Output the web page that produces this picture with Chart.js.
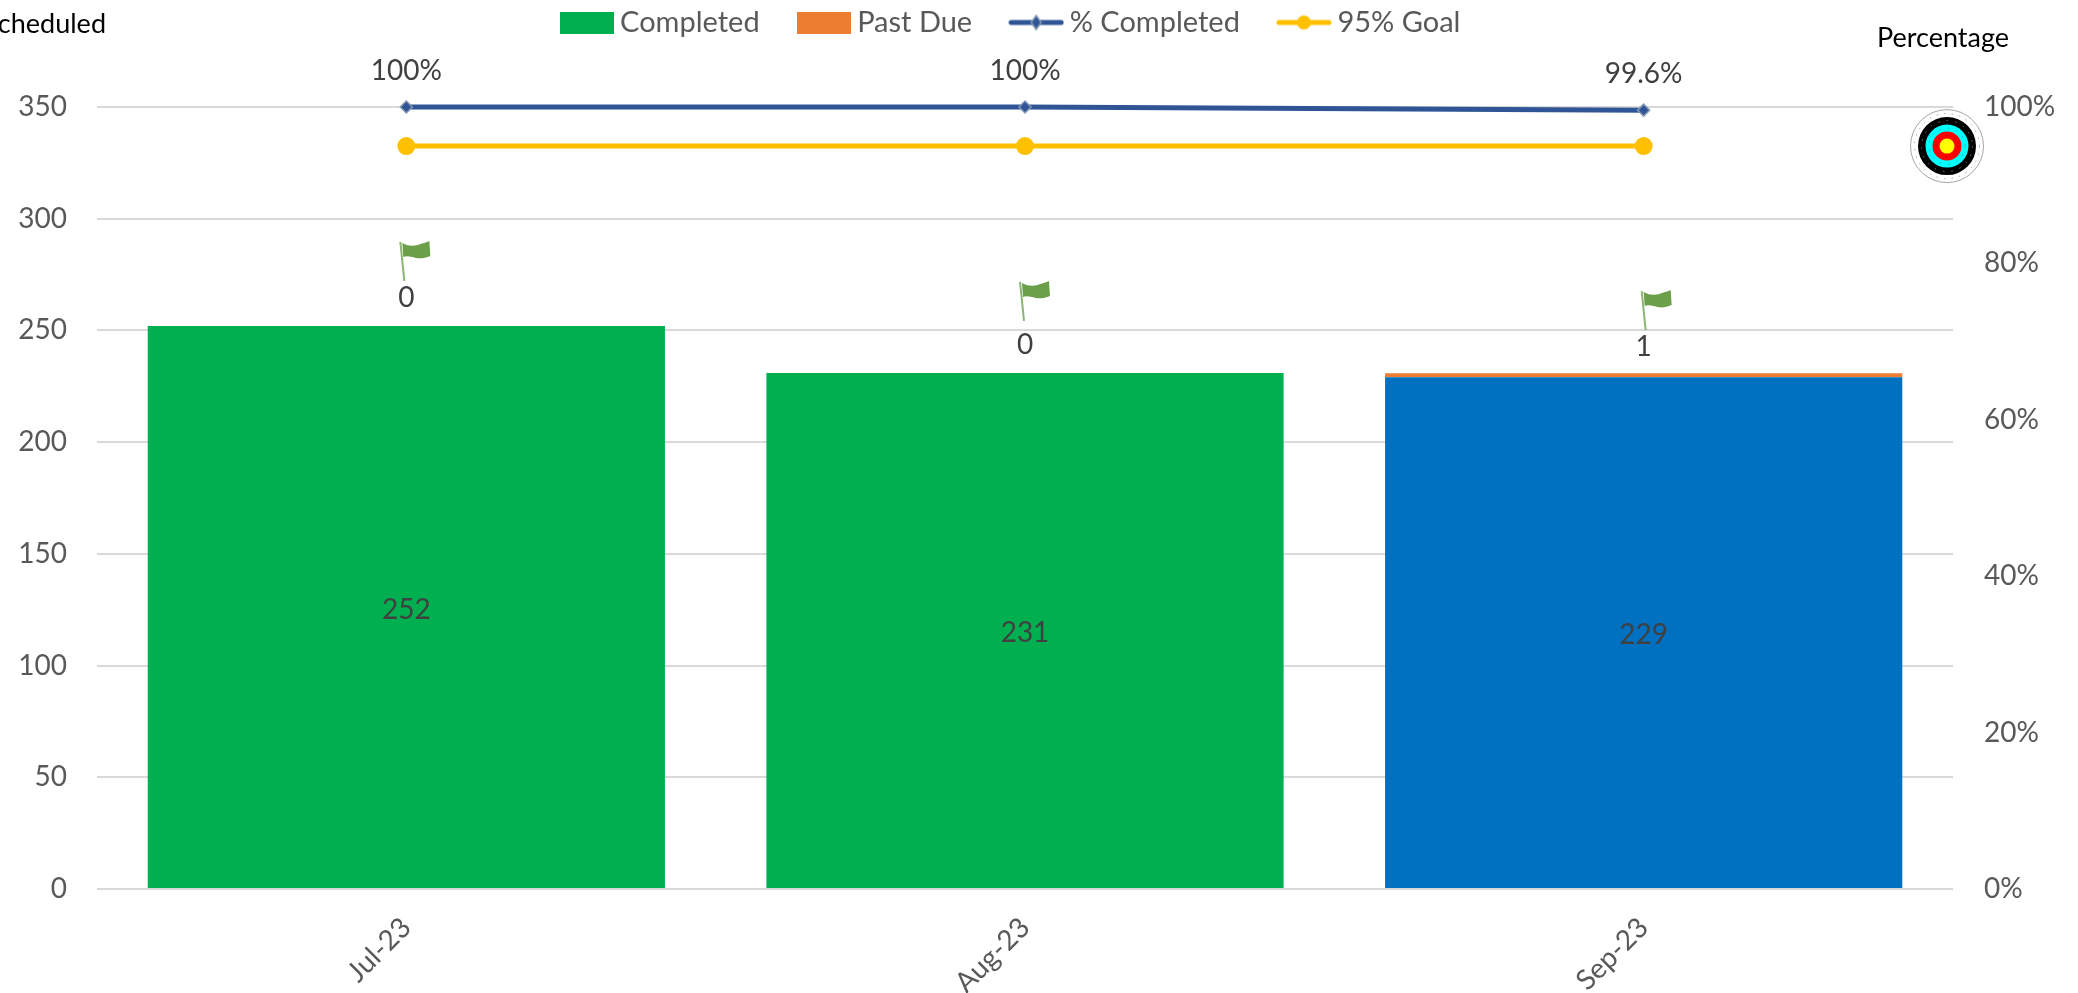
<!DOCTYPE html>
<html><head><meta charset="utf-8">
<style>html,body{margin:0;padding:0;background:#fff;overflow:hidden}canvas{display:block}</style>
<script src="https://cdn.jsdelivr.net/npm/chart.js@4/dist/chart.umd.min.js"></script>
</head><body><canvas id="c" width="2078" height="993"></canvas>
<script>
const categories = ['Jul-23','Aug-23','Sep-23'];
const completed = [252,231,229];
const pastDue = [0,0,1];
const pctCompleted = [1,1,0.996];
const goal = [0.95,0.95,0.95];
const pctLabels = ['100%','100%','99.6%'];
const completedColors = ['#00B050','#00B050','#0070C0'];
const FONT = 'Lato, Carlito, "Open Sans", sans-serif';

function swatch(color){
  const c=document.createElement('canvas');c.width=54;c.height=22;
  const x=c.getContext('2d');x.fillStyle=color;x.fillRect(0,0,54,22);return c;
}
function lineKey(color,marker){
  const c=document.createElement('canvas');c.width=56;c.height=24;
  const x=c.getContext('2d');
  x.strokeStyle=color;x.lineWidth=5;x.lineCap='round';
  x.beginPath();x.moveTo(3,12);x.lineTo(53,12);x.stroke();
  x.fillStyle=color;
  if(marker==='diamond'){
    x.strokeStyle='#8497B0';x.lineWidth=1.5;
    x.beginPath();x.moveTo(28,5);x.lineTo(33,12);x.lineTo(28,19);x.lineTo(23,12);x.closePath();x.fill();x.stroke();
  } else {
    x.beginPath();x.arc(28,12,7,0,Math.PI*2);x.fill();
  }
  return c;
}
const legendIcons=[swatch('#00B050'),swatch('#ED7D31'),lineKey('#2F5597','diamond'),lineKey('#FFC000','circle')];

const legendFit={
  id:'legendFit',
  beforeLayout(chart){
    const L=chart.legend;
    if(L && !L._patched){
      L._patched=true;
      const f=L.fit, d=L.draw;
      L.fit=function(){f.call(this);this.height=107;this.lineWidths[0]+=50;};
      L.draw=function(){
        const ctx=this.ctx;ctx.save();ctx.translate(0,-37);d.call(this);ctx.restore();
      };
    }
  }
};

function drawFlag(ctx,x,y){
  ctx.save();
  ctx.strokeStyle='#8DB573';ctx.lineWidth=2;
  ctx.beginPath();ctx.moveTo(x-6,y);ctx.lineTo(x-2,y+39);ctx.stroke();
  ctx.fillStyle='#6B9F4A';
  ctx.beginPath();ctx.moveTo(x-4,y+1);
  ctx.bezierCurveTo(x+3,y+5,x+10,y+4,x+14,y+2);
  ctx.bezierCurveTo(x+18,y+1,x+21,y,x+23,y-1);
  ctx.lineTo(x+24,y+14);
  ctx.bezierCurveTo(x+17,y+17,x+12,y+17,x+6,y+15);
  ctx.bezierCurveTo(x+2,y+14,x-1,y+14,x-3,y+15);
  ctx.closePath();ctx.fill();
  ctx.restore();
}
function drawTarget(ctx,x,y){
  ctx.save();
  ctx.fillStyle='#fff';ctx.strokeStyle='#A6A6A6';ctx.lineWidth=1;
  ctx.beginPath();ctx.arc(x,y,36.5,0,Math.PI*2);ctx.fill();ctx.stroke();
  ctx.setLineDash([1.5,6]);ctx.beginPath();ctx.arc(x,y,32.5,0,Math.PI*2);ctx.stroke();ctx.setLineDash([]);
  [[29,'#000000'],[21.5,'#00FFFF'],[14.5,'#FF0000'],[7.5,'#FFFF00']].forEach(([r,col])=>{
    ctx.fillStyle=col;ctx.beginPath();ctx.arc(x,y,r,0,Math.PI*2);ctx.fill();
  });
  ctx.setLineDash([1.5,7]);ctx.lineWidth=1;
  [[25.5,'#777777'],[18,'#3AA0A0'],[11,'#A00000']].forEach(([r,col])=>{
    ctx.strokeStyle=col;ctx.beginPath();ctx.arc(x,y,r,0,Math.PI*2);ctx.stroke();
  });
  ctx.restore();
}
const overlay={
  id:'overlay',
  afterDatasetsDraw(chart){
    const ctx=chart.ctx,xS=chart.scales.x,yS=chart.scales.y,y1=chart.scales.y1;
    ctx.save();
    ctx.textAlign='center';ctx.textBaseline='middle';
    ctx.font='28px '+FONT;ctx.fillStyle='#404040';
    const flagLift=[84,91,84], flagShift=[0,1,4];
    categories.forEach((cat,i)=>{
      const x=xS.getPixelForValue(i);
      ctx.fillText(String(completed[i]),x,yS.getPixelForValue(completed[i]/2)+2);
      const top=yS.getPixelForValue(completed[i]+pastDue[i]);
      ctx.fillText(String(pastDue[i]),x,top-28);
      ctx.fillText(pctLabels[i],x,y1.getPixelForValue(pctCompleted[i])-36);
      drawFlag(ctx,x+flagShift[i],top-flagLift[i]);
    });
    drawTarget(ctx,1947,y1.getPixelForValue(goal[0]));
    ctx.font='27px '+FONT;ctx.fillStyle='#000';
    ctx.textAlign='right';ctx.fillText('Scheduled',106,24);
    ctx.textAlign='left';ctx.fillText('Percentage',1877,38);
    ctx.restore();
  }
};

new Chart(document.getElementById('c'),{
  data:{
    labels:categories,
    datasets:[
      {type:'line',label:'% Completed',data:pctCompleted,yAxisID:'y1',borderColor:'#2F5597',backgroundColor:'#2F5597',borderWidth:5,clip:false,
       pointStyle:'rectRot',pointRadius:6,pointBorderColor:'#8497B0',pointBorderWidth:1.5,pointBackgroundColor:'#2F5597',order:1,tension:0},
      {type:'line',label:'95% Goal',data:goal,yAxisID:'y1',borderColor:'#FFC000',backgroundColor:'#FFC000',borderWidth:5,clip:false,
       pointStyle:'circle',pointRadius:6.5,pointBackgroundColor:'#FFC000',pointBorderColor:'#FFC000',order:2,tension:0},
      {type:'bar',label:'Completed',data:completed,yAxisID:'y',backgroundColor:completedColors,stack:'s',order:3,barPercentage:1,categoryPercentage:0.836},
      {type:'bar',label:'Past Due',data:pastDue.map(v=>v||null),yAxisID:'y',backgroundColor:'#ED7D31',minBarLength:4,stack:'s',order:4,barPercentage:1,categoryPercentage:0.836}
    ]
  },
  options:{
    responsive:false,animation:false,devicePixelRatio:1,
    layout:{padding:0},
    plugins:{
      tooltip:{enabled:false},
      legend:{
        position:'top',align:'center',
        labels:{
          usePointStyle:true,pointStyleWidth:38,padding:45,color:'#595959',
          font:{family:FONT,size:29},
          generateLabels(){
            return ['Completed','Past Due','% Completed','95% Goal'].map((t,i)=>({
              text:t,pointStyle:legendIcons[i],fontColor:'#595959',datasetIndex:i,hidden:false,lineWidth:0,strokeStyle:'transparent',fillStyle:'transparent'
            }));
          }
        }
      }
    },
    scales:{
      x:{stacked:true,
        afterFit(s){s.height=104;},
        grid:{display:false},border:{display:false},
        ticks:{color:'#595959',font:{family:FONT,size:28},minRotation:45,maxRotation:45,padding:14}},
      y:{stacked:true,position:'left',min:0,max:350,
        afterFit(s){s.width=97;},
        grid:{color:'#D9D9D9',lineWidth:2,drawTicks:false},border:{display:false},
        ticks:{stepSize:50,color:'#595959',font:{family:FONT,size:28},padding:30}},
      y1:{position:'right',min:0,max:1,
        afterFit(s){s.width=125;},
        grid:{display:false},border:{display:false},
        ticks:{stepSize:0.2,color:'#595959',font:{family:FONT,size:28},padding:23,callback:v=>Math.round(v*100)+'%'}}
    }
  },
  plugins:[legendFit,overlay]
});
</script></body></html>
